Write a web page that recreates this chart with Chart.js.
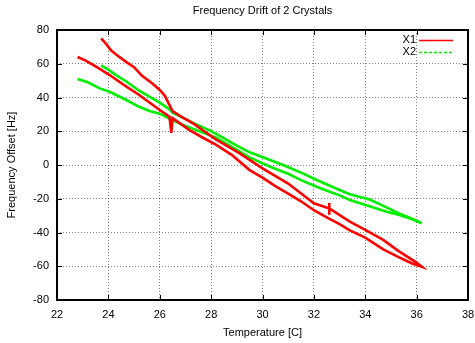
<!DOCTYPE html>
<html>
<head>
<meta charset="utf-8">
<script src="https://cdn.jsdelivr.net/npm/chart.js@4"></script>
<style>
html,body{margin:0;padding:0;background:#ffffff;}
canvas{display:block;}
</style>
</head>
<body>
<canvas id="c" width="475" height="343"></canvas>
<script>
// ---- data ----
const chartTitle = 'Frequency Drift of 2 Crystals';
const xAxisTitle = 'Temperature [C]';
const yAxisTitle = 'Frequency Offset [Hz]';
const seriesNames = ['X1', 'X2'];

const xTicks = [22, 24, 26, 28, 30, 32, 34, 36, 38];
const yTicks = [-80, -60, -40, -20, 0, 20, 40, 60, 80];

// X1: lower branch (from 22.8 C up to 36.2 C), then upper branch back to 23.7 C
const x1Temp = [22.8, 23.1, 23.6, 24.05, 24.6, 25.2, 25.6, 26.0, 26.38, 26.45, 26.5, 27.16, 27.7, 28.2, 28.8, 29.5, 30.0, 30.5, 31.0, 31.5, 32.0, 32.5, 33.0, 33.4, 34.0, 34.7, 35.3, 35.8, 36.2,
                36.0, 35.3, 34.7, 34.0, 33.4, 32.6, 32.6, 32.6, 32.6, 32.0, 31.0, 30.0, 29.1, 28.2, 27.3, 26.8, 26.5, 26.38, 26.2, 26.0, 25.7, 25.3, 25.0, 24.7, 24.3, 24.1, 23.9, 23.72];
const x1Freq = [64, 62, 57.5, 53.3, 47.5, 41.5, 37, 32.6, 28.6, 19, 27.8, 20.7, 16, 11.9, 6, -3, -7.5, -12.5, -17, -21.5, -26.8, -31, -35, -38.8, -43, -50, -54.6, -58.2, -60.3,
                -57.8, -51, -44.4, -38.5, -33.6, -25.7, -22.5, -29.5, -25.7, -22.7, -11, -2, 7, 15, 24.7, 29, 32, 35.5, 41, 44.5, 48.5, 53, 58, 61, 65.5, 68, 72, 75];

// X2: lower branch (from 22.8 C up to 36.2 C), then upper branch back to 23.7 C
const x2Temp = [22.8, 23.2, 23.66, 24.05, 24.7, 25.2, 25.6, 26.0, 26.5, 27.0, 27.55, 28.2, 29.0, 29.5, 30.3, 31.0, 31.5, 32.2, 33.0, 33.4, 34.17, 34.8, 35.3, 35.8, 36.2,
                36.0, 35.3, 34.6, 34.17, 33.4, 33.0, 32.2, 31.5, 30.8, 30.3, 29.5, 29.0, 28.2, 27.94, 27.3, 26.5, 26.38, 26.0, 25.6, 25.2, 24.7, 24.3, 24.0, 23.72];
const x2Freq = [51, 49, 45.4, 43.4, 38.5, 34.5, 32, 30.4, 26.5, 23.2, 20, 16.2, 9, 4.5, -1, -5.2, -9, -13.5, -18, -20.7, -24.5, -27.5, -29.5, -32, -34.6,
                -33, -28.5, -23.5, -20.5, -17.3, -14.8, -9.5, -4.5, 0, 3, 7.5, 11.5, 18.5, 20.5, 25, 31, 33, 37, 40.5, 44, 49.5, 53.3, 56.5, 59];

const seriesColors = ['#ff0000', '#00ee00'];

function pairs(xs, ys) { return xs.map((v, i) => ({ x: v, y: ys[i] })); }

const FONT = 'Liberation Sans, Arial, Helvetica, sans-serif';

const framePlugin = {
  id: 'frame',
  afterDatasetsDraw(chart) {
    const { ctx, chartArea: a, scales } = chart;
    const xs = scales.x, ys = scales.y;
    ctx.save();
    ctx.strokeStyle = '#000';
    ctx.lineWidth = 1;
    ctx.beginPath();
    xs.ticks.forEach(t => {
      const px = Math.round(xs.getPixelForValue(t.value)) + 0.5;
      ctx.moveTo(px, a.bottom); ctx.lineTo(px, a.bottom - 5);
      ctx.moveTo(px, a.top); ctx.lineTo(px, a.top + 5);
    });
    ys.ticks.forEach(t => {
      const py = Math.round(ys.getPixelForValue(t.value)) + 0.5;
      ctx.moveTo(a.left, py); ctx.lineTo(a.left + 5, py);
      ctx.moveTo(a.right, py); ctx.lineTo(a.right - 5, py);
    });
    ctx.stroke();
    ctx.lineWidth = 2;
    ctx.strokeRect(a.left, a.top, a.right - a.left, a.bottom - a.top);

    // legend (inside, top right)
    ctx.font = '11px ' + FONT;
    ctx.textAlign = 'right';
    ctx.textBaseline = 'middle';
    chart.data.datasets.forEach((ds, i) => {
      const yy = 40 + i * 12;
      ctx.fillStyle = '#000';
      ctx.fillText(ds.label, a.right - 52, yy);
      ctx.strokeStyle = ds.borderColor;
      ctx.lineWidth = 1.5;
      ctx.setLineDash(i === 1 ? [3, 2] : []);
      ctx.beginPath();
      ctx.moveTo(a.right - 49, yy + 0.5);
      ctx.lineTo(a.right - 15, yy + 0.5);
      ctx.stroke();
    });
    ctx.setLineDash([]);
    ctx.restore();
  }
};

new Chart(document.getElementById('c'), {
  type: 'scatter',
  data: {
    datasets: [
      { label: seriesNames[0], data: pairs(x1Temp, x1Freq), borderColor: seriesColors[0], backgroundColor: seriesColors[0],
        showLine: true, pointRadius: 0, borderWidth: 2.6, tension: 0, fill: false },
      { label: seriesNames[1], data: pairs(x2Temp, x2Freq), borderColor: seriesColors[1], backgroundColor: seriesColors[1],
        showLine: true, pointRadius: 0, borderWidth: 2.6, tension: 0, fill: false }
    ]
  },
  options: {
    responsive: false,
    animation: false,
    layout: { padding: { left: 0, right: 7, top: 0, bottom: 0 } },
    plugins: {
      legend: { display: false },
      tooltip: { enabled: false },
      title: {
        display: true, text: chartTitle, color: '#000', fullSize: false,
        font: { family: FONT, size: 11, weight: 'normal' },
        padding: { top: 4, bottom: 12.8 }
      }
    },
    scales: {
      x: {
        type: 'linear', min: 22, max: 38,
        afterBuildTicks(s) { s.ticks = xTicks.map(v => ({ value: v })); },
        afterFit(s) { s.height = 43; s.paddingLeft = 0; s.paddingRight = 0; },
        ticks: { color: '#000', font: { family: FONT, size: 11 }, padding: 8, maxRotation: 0 },
        grid: { color: 'rgba(0,0,0,0.5)', lineWidth: 1, drawTicks: false },
        border: { display: false, dash: [1, 2] },
        title: { display: true, text: xAxisTitle, color: '#000', font: { family: FONT, size: 11 }, padding: { top: 2, bottom: 3 } }
      },
      y: {
        type: 'linear', min: -80, max: 80,
        afterBuildTicks(s) { s.ticks = yTicks.map(v => ({ value: v })); },
        afterFit(s) { s.width = 57; },
        ticks: { color: '#000', font: { family: FONT, size: 11 }, padding: 8 },
        grid: { color: 'rgba(0,0,0,0.5)', lineWidth: 1, drawTicks: false },
        border: { display: false, dash: [1, 2] },
        title: { display: true, text: yAxisTitle, color: '#000', font: { family: FONT, size: 11 }, padding: { top: 5, bottom: 4 } }
      }
    }
  },
  plugins: [framePlugin]
});
</script>
</body>
</html>
